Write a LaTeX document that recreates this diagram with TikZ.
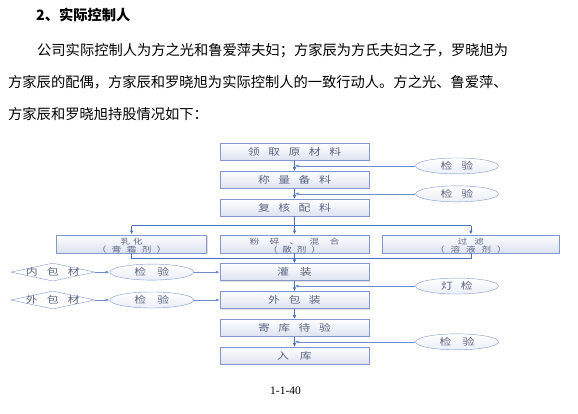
\documentclass[tikz,border=0pt]{standalone}
\usepackage{fontspec}
\setmainfont{Liberation Serif}
\newfontfamily\cjk{Noto Sans CJK SC}
\newfontfamily\cjkwide[FakeStretch=1.25]{Noto Sans CJK SC}
\usepackage{tikz}
\usetikzlibrary{arrows.meta,positioning,shapes.geometric,shadows,calc}
\definecolor{ink}{HTML}{5A6680}
\definecolor{boxline}{HTML}{8297CE}
\definecolor{boxfill}{HTML}{DCE2F0}
\definecolor{flow}{HTML}{4A70C0}
\definecolor{sideflow}{HTML}{6F8BCB}

\makeatletter
\newcommand\spaced[2][8.5pt]{\let\spsep\relax\@tfor\spch:=#2\do{\spsep\spch\def\spsep{\hspace{#1}}}}
\makeatother

\begin{document}
\begin{tikzpicture}[
  x=1pt,y=-1pt,
  node distance=10.5pt and 13pt,
  para/.style={anchor=west,inner sep=0pt,font=\cjk\fontsize{14.27}{16}\selectfont},
  box/.style={draw=boxline,top color=white,bottom color=boxfill,drop shadow={shadow xshift=1pt,shadow yshift=-1pt,opacity=.25},minimum width=149pt,minimum height=17pt,inner sep=0pt,text=ink,align=center,font=\cjkwide\fontsize{9.5}{9.5}\selectfont},
  twoline/.style={minimum height=18pt,text height=17.4pt,text depth=-0.6pt,font=\cjkwide\fontsize{7.6}{8.2}\selectfont},
  check/.style={ellipse,draw=boxline,top color=white,bottom color=boxfill!60,minimum width=83pt,minimum height=16pt,inner sep=0pt,text=ink,font=\cjkwide\fontsize{9.5}{9.5}\selectfont},
  mat/.style={diamond,aspect=4.67,draw=boxline,fill=white,minimum width=84pt,minimum height=18pt,inner sep=-3pt,text=ink,font=\cjkwide\fontsize{9.5}{9.5}\selectfont},
  arr/.style={-{Latex[length=4pt,width=3.5pt]},draw=flow,line width=0.8pt},
  line/.style={draw=flow,line width=0.8pt},
  feed/.style={-{Latex[length=4pt,width=3pt]},draw=sideflow,line width=0.6pt}
]
\useasboundingbox (0,0) rectangle (578,414);

% heading and text
\node[para,font=\cjk\bfseries\fontsize{14.27}{16}\selectfont] (title) at (36,15) {2、实际控制人};
\node[para] (line1) at (37,51) {公司实际控制人为方之光和鲁爱萍夫妇；方家辰为方氏夫妇之子，罗晓旭为};
\node[para] (line2) at (8,82) {方家辰的配偶，方家辰和罗晓旭为实际控制人的一致行动人。方之光、鲁爱萍、};
\node[para] (line3) at (8,114) {方家辰和罗晓旭持股情况如下：};

% main column
\node[box] (lingqu) at (294.5,152) {\spaced{领取原材料}};
\node[box,below=of lingqu] (chengliang) {\spaced{称量备料}};
\node[box,below=of chengliang] (fuhe) {\spaced{复核配料}};
\node[box,twoline,below=18pt of fuhe] (fensui) {\spaced[10.5pt]{粉碎、混合}\\\spaced[5pt]{（散剂）}};
\node[box,twoline,left=of fensui,minimum width=150pt] (ruhua) {\spaced[3pt]{乳化}\\\spaced[5.5pt]{（膏霜剂）}};
\node[box,twoline,right=of fensui,minimum width=177pt] (guolv) {\spaced[7pt]{过滤}\\\spaced[6pt]{（溶液剂）}};
\node[box,below=of fensui] (guanzhuang) {\spaced[11pt]{灌装}};
\node[box,below=of guanzhuang] (waibaozhuang) {\spaced{外包装}};
\node[box,below=of waibaozhuang] (jiku) {\spaced{寄库待验}};
\node[box,below=of jiku] (ruku) {\spaced[11pt]{入库}};

% gaps on the trunk
\coordinate (g1) at ($(lingqu.south)!.5!(chengliang.north)$);
\coordinate (g2) at ($(chengliang.south)!.5!(fuhe.north)$);
\coordinate (g3) at ($(guanzhuang.south)!.5!(waibaozhuang.north)$);
\coordinate (g4) at ($(jiku.south)!.5!(ruku.north)$);
\coordinate (split) at ($(fuhe.south)!.5!(fensui.north)$);
\coordinate (merge) at ($(fensui.south)!.5!(guanzhuang.north)$);

% checks on the right
\node[check] (jy1) at ($(g1)+(162.5,0)$) {\spaced[9pt]{检验}};
\node[check] (jy2) at ($(g2)+(162.5,0)$) {\spaced[9pt]{检验}};
\node[check] (dengjian) at ($(g3)+(162.5,0)$) {\spaced[8pt]{灯检}};
\node[check] (jy4) at ($(g4)+(162.5,0)$) {\spaced[11pt]{检验}};

% packing material on the left
\node[check,minimum width=84pt] (jyA) at ($(guanzhuang.west)+(-68,0)$) {\spaced[11pt]{检验}};
\node[check,minimum width=84pt] (jyB) at ($(waibaozhuang.west)+(-68,0)$) {\spaced[11pt]{检验}};
\node[mat] (neibao) at ($(guanzhuang.west)+(-167,0)$) {\spaced[9pt]{内包材}};
\node[mat] (waibao) at ($(waibaozhuang.west)+(-167,0)$) {\spaced[9pt]{外包材}};

\draw[arr] (lingqu) -- (chengliang);
\draw[arr] (chengliang) -- (fuhe);
\draw[arr] (fuhe) -- (fensui);
\draw[line] (ruhua.north |- split) -- (guolv.north |- split);
\draw[arr] (ruhua.north |- split) -- (ruhua.north);
\draw[arr] (guolv.north |- split) -- (guolv.north);
\draw[line] (ruhua.south) -- (ruhua.south |- merge) -- (guolv.south |- merge) -- (guolv.south);
\draw[arr] (fensui) -- (guanzhuang);
\draw[arr] (guanzhuang) -- (waibaozhuang);
\draw[arr] (waibaozhuang) -- (jiku);
\draw[arr] (jiku) -- (ruku);

\draw[feed] (jy1) -- (g1);
\draw[feed] (jy2) -- (g2);
\draw[feed] (dengjian) -- (g3);
\draw[feed] (jy4) -- (g4);

\draw[feed] (neibao) -- (jyA);
\draw[feed] (jyA) -- (guanzhuang);
\draw[feed] (waibao) -- (jyB);
\draw[feed] (jyB) -- (waibaozhuang);

\node[font=\fontsize{11.5}{12}\selectfont] (pageno) at (285.5,391) {1-1-40};
\end{tikzpicture}
\end{document}
